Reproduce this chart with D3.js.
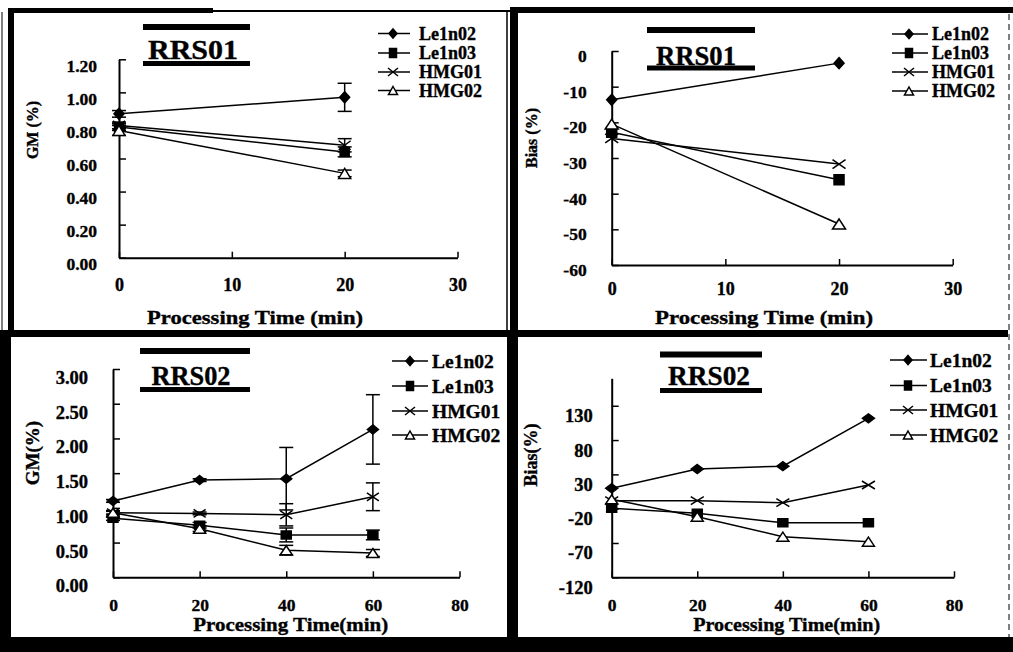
<!DOCTYPE html>
<html>
<head>
<meta charset="utf-8">
<script src="https://cdn.jsdelivr.net/npm/d3@7"></script>
<style>
  body { margin: 0; background: #fff; }
  svg { display: block; }
  text { font-family: "Liberation Serif", "Times New Roman", serif; font-weight: bold; fill: #000; stroke: #000; stroke-width: 0.35px; }
</style>
</head>
<body>
<svg id="fig" width="1013" height="652"></svg>
<script>
// series order used by every panel
const seriesNames = ["Le1n02", "Le1n03", "HMG01", "HMG02"];
const markerTypes = ["diamond", "square", "cross", "triangle"];

// processing times (min)
const timesRRS01 = [0, 20];
const timesRRS02 = [0, 20, 40, 60];

// GM (%) for RRS01, one row per series, plus error bars
const gmRRS01 = [[0.87, 0.97], [0.79, 0.64], [0.80, 0.68], [0.77, 0.51]];
const gmRRS01Err = [[0.02, 0.085], [0.02, 0.03], [0.02, 0.04], [0.03, 0.02]];

// Bias (%) for RRS01
const biasRRS01 = [[-13.7, -3.4], [-22.8, -36.1], [-24.5, -31.7], [-20.5, -48.5]];

// GM (%) for RRS02 with error bars
const gmRRS02 = [
  [1.10, 1.40, 1.42, 2.13],
  [0.85, 0.75, 0.61, 0.61],
  [0.93, 0.92, 0.90, 1.16],
  [0.93, 0.70, 0.39, 0.35]
];
const gmRRS02Err = [
  [0.02, 0.02, 0.45, 0.50],
  [0.03, 0.04, 0.10, 0.07],
  [0.02, 0.02, 0.16, 0.20],
  [0.03, 0.04, 0.07, 0.05]
];

// Bias (%) for RRS02
const biasRRS02 = [
  [9.7, 37.8, 42, 111.6],
  [-19.5, -26.8, -40.5, -40.5],
  [-8.4, -8.4, -11.3, 14.5],
  [-6.4, -31.7, -60.8, -68.1]
];

// axis ticks
const gmTicks01 = [0, 0.2, 0.4, 0.6, 0.8, 1.0, 1.2];
const biasTicks01 = [-60, -50, -40, -30, -20, -10, 0];
const gmTicks02 = [0, 0.5, 1.0, 1.5, 2.0, 2.5, 3.0];
const biasTicks02 = [-120, -70, -20, 30, 80, 130];
const timeTicks01 = [0, 10, 20, 30];
const timeTicks02 = [0, 20, 40, 60, 80];

const fmt2 = d3.format(".2f");
const fmtInt = d => String(d);

const panels = [
  {
    values: gmRRS01, errors: gmRRS01Err, times: timesRRS01,
    xDomain: [0, 30], xRange: [119, 457.5], xTicks: timeTicks01,
    yDomain: [0, 1.2], yRange: [257.7, 59.3], yTicks: gmTicks01, fmt: fmt2,
    yPad: 22, yShift: 6, yFont: 17.5, xBase: 33, xFont: 18,
    yLabel: "GM (%)", yLabelPos: [32, 130], yLabelFont: 16,
    xLabel: "Processing Time (min)", xLabelPos: [255, 324], xLabelLen: 216, xLabelFont: 19,
    title: "RRS01", titlePos: [193, 59], titleLen: 90, bars: [143, 250, 24, 61],
    marker: { diamond: [10, 11], square: [9, 9], cross: [12, 9], triangle: [12, 10] },
    legend: { x0: 378, x1: 410, mx: 393, tx: 419, rows: [33.5, 53, 72, 90.5], font: 18 }
  },
  {
    values: biasRRS01, errors: null, times: timesRRS01,
    xDomain: [0, 30], xRange: [611.7, 952.7], xTicks: timeTicks01,
    yDomain: [-60, 0], yRange: [265, 51], yTicks: biasTicks01, fmt: fmtInt,
    yPad: 25, yShift: 4.5, yFont: 17.5, xBase: 30, xFont: 18,
    yLabel: "Bias (%)", yLabelPos: [531, 138], yLabelFont: 16,
    xLabel: "Processing Time (min)", xLabelPos: [764, 324], xLabelLen: 218, xLabelFont: 19,
    title: "RRS01", titlePos: [696, 64.5], titleLen: 80, bars: [647, 755, 27, 65.5],
    marker: { diamond: [10, 11], square: [10, 10], cross: [13, 9], triangle: [13, 10] },
    legend: { x0: 892, x1: 928, mx: 909, tx: 932, rows: [34, 53, 72, 91], font: 18 }
  },
  {
    values: gmRRS02, errors: gmRRS02Err, times: timesRRS02,
    xDomain: [0, 80], xRange: [113, 459.5], xTicks: timeTicks02,
    yDomain: [0, 3], yRange: [577.3, 369], yTicks: gmTicks02, fmt: fmt2,
    yPad: 25, yShift: 8, yFont: 18.5, xBase: 34, xFont: 17.5,
    yLabel: "GM(%)", yLabelPos: [32, 453], yLabelFont: 19,
    xLabel: "Processing Time(min)", xLabelPos: [290.7, 630.5], xLabelLen: 195, xLabelFont: 19,
    title: "RRS02", titlePos: [191, 385], titleLen: 79, bars: [140, 250, 348, 387],
    marker: { diamond: [11, 9], square: [10, 8], cross: [12, 8], triangle: [12, 9] },
    legend: { x0: 392, x1: 428, mx: 410, tx: 432, rows: [361, 386, 411, 435], font: 19.5 }
  },
  {
    values: biasRRS02, errors: null, times: timesRRS02,
    xDomain: [0, 80], xRange: [611.7, 954], xTicks: timeTicks02,
    yDomain: [-120, 170], yRange: [577.3, 378.3], yTicks: biasTicks02, fmt: fmtInt,
    yPad: 19, yShift: 9.5, yFont: 18.5, xBase: 33.5, xFont: 17.5,
    yLabel: "Bias(%)", yLabelPos: [531, 455], yLabelFont: 18,
    xLabel: "Processing Time(min)", xLabelPos: [786.7, 631], xLabelLen: 187, xLabelFont: 19,
    title: "RRS02", titlePos: [709, 385], titleLen: 82, bars: [660, 762, 351.5, 388],
    marker: { diamond: [12, 9], square: [10, 8], cross: [13, 8], triangle: [12, 9] },
    legend: { x0: 890, x1: 927, mx: 908, tx: 930, rows: [360, 385.5, 410, 435], font: 19.5 }
  }
];

const svg = d3.select("#fig");

// marker outline centred on 0,0
function markerPath(type, w, h) {
  const a = w / 2, b = h / 2;
  if (type === "diamond") return `M0,${-b}L${a},0L0,${b}L${-a},0Z`;
  if (type === "square") return `M${-a},${-b}H${a}V${b}H${-a}Z`;
  if (type === "cross") return `M${-a},${-b}L${a},${b}M${a},${-b}L${-a},${b}`;
  return `M0,${-b}L${a},${b}H${-a}Z`;
}

function drawMarker(g, type, cx, cy, w, h) {
  const m = g.append("path")
    .attr("d", markerPath(type, w, h))
    .attr("transform", `translate(${cx},${cy})`)
    .attr("stroke", "#000")
    .attr("stroke-width", 1.5);
  if (type === "triangle") m.attr("fill", "#fff");
  else if (type === "cross") m.attr("fill", "none");
  else m.attr("fill", "#000");
}

panels.forEach(p => {
  const g = svg.append("g");
  const x = d3.scaleLinear().domain(p.xDomain).range(p.xRange);
  const y = d3.scaleLinear().domain(p.yDomain).range(p.yRange);

  // y axis, ticks pointing inward
  const ya = g.append("g")
    .attr("transform", `translate(${p.xRange[0]},0)`)
    .call(d3.axisLeft(y).tickValues(p.yTicks).tickFormat(p.fmt)
      .tickSizeInner(-7).tickSizeOuter(0).tickPadding(p.yPad));
  ya.select(".domain").attr("stroke-width", 2);
  ya.selectAll(".tick line").attr("stroke-width", 1.5);
  ya.selectAll(".tick text")
    .attr("dy", "0.35em").attr("y", p.yShift)
    .style("font-size", p.yFont + "px");

  // x axis
  const xa = g.append("g")
    .attr("transform", `translate(0,${p.yRange[0]})`)
    .call(d3.axisBottom(x).tickValues(p.xTicks).tickFormat(fmtInt)
      .tickSizeInner(-6).tickSizeOuter(0));
  xa.select(".domain").attr("stroke-width", 2);
  xa.selectAll(".tick line").attr("stroke-width", 1.5);
  xa.selectAll(".tick text")
    .attr("dy", "0").attr("y", p.xBase)
    .style("font-size", p.xFont + "px");
  ya.attr("font-family", null).attr("font-size", null);
  xa.attr("font-family", null).attr("font-size", null);

  // axis titles
  g.append("text")
    .attr("transform", `translate(${p.yLabelPos[0]},${p.yLabelPos[1]}) rotate(-90)`)
    .attr("text-anchor", "middle").attr("dy", "0.35em")
    .style("font-size", p.yLabelFont + "px")
    .text(p.yLabel);
  g.append("text")
    .attr("x", p.xLabelPos[0]).attr("y", p.xLabelPos[1])
    .attr("text-anchor", "middle")
    .attr("textLength", p.xLabelLen).attr("lengthAdjust", "spacingAndGlyphs")
    .style("font-size", p.xLabelFont + "px")
    .text(p.xLabel);

  // sample title with heavy bars above and below
  const [bx0, bx1, bTop, bBot] = p.bars;
  g.append("rect").attr("x", bx0).attr("y", bTop).attr("width", bx1 - bx0).attr("height", 6).attr("fill", "#000");
  g.append("rect").attr("x", bx0).attr("y", bBot).attr("width", bx1 - bx0).attr("height", 5).attr("fill", "#000");
  g.append("text")
    .attr("x", p.titlePos[0]).attr("y", p.titlePos[1])
    .attr("text-anchor", "middle")
    .attr("textLength", p.titleLen).attr("lengthAdjust", "spacingAndGlyphs")
    .style("font-size", "27px")
    .text(p.title);

  // series lines
  const line = d3.line().x((d, i) => x(p.times[i])).y(d => y(d));
  p.values.forEach(vals => {
    g.append("path").datum(vals)
      .attr("d", line)
      .attr("fill", "none").attr("stroke", "#000").attr("stroke-width", 1.5);
  });

  // error bars
  if (p.errors) {
    p.values.forEach((vals, s) => {
      vals.forEach((v, j) => {
        const e = p.errors[s][j];
        const cx = x(p.times[j]);
        const y0 = y(v - e), y1 = y(v + e);
        const eg = g.append("g").attr("stroke", "#000").attr("stroke-width", 1.5);
        eg.append("line").attr("x1", cx).attr("x2", cx).attr("y1", y0).attr("y2", y1);
        eg.append("line").attr("x1", cx - 7).attr("x2", cx + 7).attr("y1", y0).attr("y2", y0);
        eg.append("line").attr("x1", cx - 7).attr("x2", cx + 7).attr("y1", y1).attr("y2", y1);
      });
    });
  }

  // markers
  p.values.forEach((vals, s) => {
    const type = markerTypes[s];
    const [w, h] = p.marker[type];
    vals.forEach((v, j) => drawMarker(g, type, x(p.times[j]), y(v), w, h));
  });

  // legend
  const L = p.legend;
  seriesNames.forEach((name, s) => {
    const ry = L.rows[s];
    g.append("line").attr("x1", L.x0).attr("x2", L.x1).attr("y1", ry).attr("y2", ry)
      .attr("stroke", "#000").attr("stroke-width", 1.5);
    const type = markerTypes[s];
    const size = { diamond: [8, 9], square: [7, 9], cross: [10, 8], triangle: [9, 8] }[type];
    drawMarker(g, type, L.mx, ry, size[0], size[1]);
    g.append("text")
      .attr("x", L.tx).attr("y", ry).attr("dy", "0.35em")
      .style("font-size", L.font + "px")
      .text(name);
  });
});

// heavy black frame around and between the four panels
const frame = svg.append("g").attr("fill", "#000");
[
  [8, 8, 6, 324],
  [8, 8, 205, 5],
  [510, 7, 503, 6],
  [510, 8, 8, 324],
  [0, 330, 1008, 7],
  [507, 330, 11, 322],
  [0, 330, 11, 322],
  [0, 637, 1013, 15]
].forEach(([bx, by, bw, bh]) => {
  frame.append("rect").attr("x", bx).attr("y", by).attr("width", bw).attr("height", bh);
});
svg.append("line").attr("x1", 213).attr("x2", 510).attr("y1", 11).attr("y2", 11)
  .attr("stroke", "#000").attr("stroke-width", 2);
svg.append("line").attr("x1", 507).attr("x2", 507).attr("y1", 10).attr("y2", 330)
  .attr("stroke", "#000").attr("stroke-width", 1.5);
svg.append("line").attr("x1", 2).attr("x2", 2).attr("y1", 12).attr("y2", 330)
  .attr("stroke", "#000").attr("stroke-width", 1);
svg.append("line").attr("x1", 1009).attr("x2", 1009).attr("y1", 14).attr("y2", 637)
  .attr("stroke", "#000").attr("stroke-width", 1).attr("stroke-dasharray", "6,4");
</script>
</body>
</html>
